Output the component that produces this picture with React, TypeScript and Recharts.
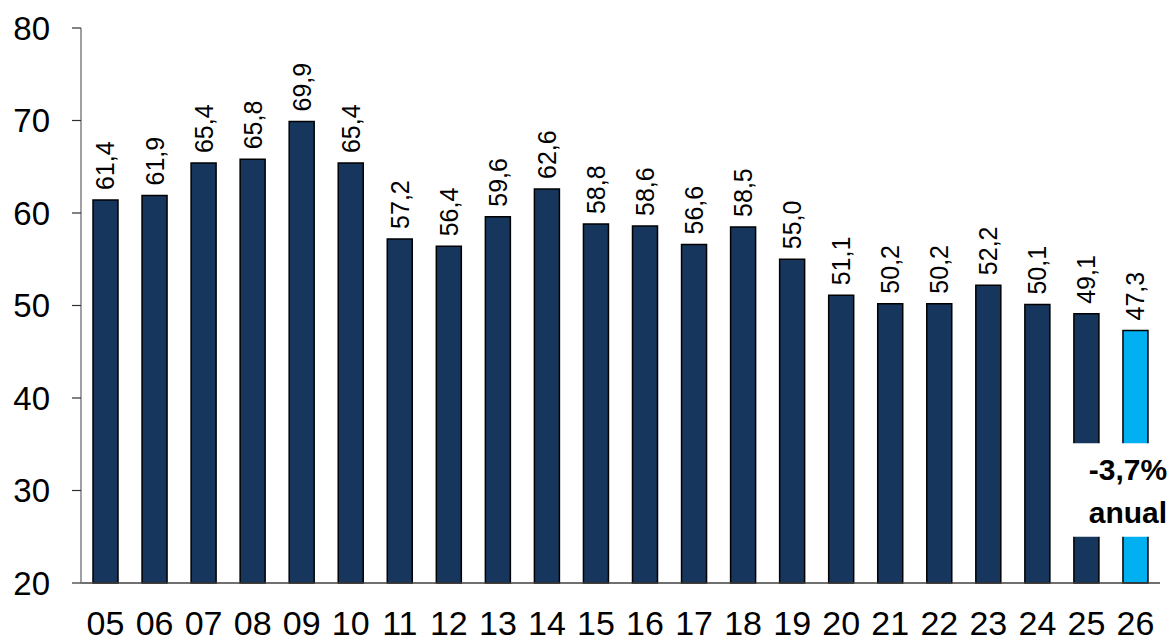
import React from 'react';
import { BarChart, Bar, XAxis, YAxis, Cell, LabelList, ReferenceArea } from 'recharts';

const years = ['05','06','07','08','09','10','11','12','13','14','15','16','17','18','19','20','21','22','23','24','25','26'];
const values = [61.4,61.9,65.4,65.8,69.9,65.4,57.2,56.4,59.6,62.6,58.8,58.6,56.6,58.5,55.0,51.1,50.2,50.2,52.2,50.1,49.1,47.3];
const yTicks = [20,30,40,50,60,70,80];
const boundaryTicks = years.map((_, i) => i).concat([years.length]);
const noteLines = ['-3,7%', 'anual'];

const data = years.map((y, i) => ({ year: y, value: values[i] }));

const FONT = '"Liberation Sans", Arial, sans-serif';
const DARK = '#17365d';
const LIGHT = '#00b0f0';

const ValueLabel = (props: any) => {
  const { x, y, width, value } = props;
  const cx = x + width / 2;
  const cy = y - 10;
  return (
    <text
      x={cx}
      y={cy}
      transform={`rotate(-90 ${cx} ${cy})`}
      textAnchor="start"
      dominantBaseline="central"
      fontFamily={FONT}
      fontSize={25}
      fill="#000"
    >
      {Number(value).toFixed(1).replace('.', ',')}
    </text>
  );
};

const NoteLabel = (props: any) => {
  const vb = props.viewBox || {};
  const cx = vb.x + vb.width / 2 + 17;
  return (
    <g>
      <text x={cx} y={vb.y + 37} textAnchor="middle" fontFamily={FONT} fontWeight="bold" fontSize={30} fill="#000">{noteLines[0]}</text>
      <text x={cx} y={vb.y + 80} textAnchor="middle" fontFamily={FONT} fontWeight="bold" fontSize={30} fill="#000">{noteLines[1]}</text>
    </g>
  );
};

export default function App() {
  return (
    <div style={{ position: 'absolute', left: 0, top: 0, width: 1171, height: 638, background: '#fff' }}>
      <BarChart width={1171} height={638} data={data} margin={{ top: 28, right: 11, bottom: 0, left: 0 }} barSize={25}>
        <XAxis
          xAxisId="bnd"
          type="number"
          domain={[0, years.length]}
          ticks={boundaryTicks}
          interval={0}
          tick={false}
          tickSize={10}
          axisLine={false}
          tickLine={{ stroke: '#707070', strokeWidth: 1.5 }}
          height={0}
        />
        <XAxis
          xAxisId="cat"
          dataKey="year"
          interval={0}
          tickLine={false}
          tickSize={0}
          tickMargin={28}
          height={55}
          axisLine={{ stroke: '#404040', strokeWidth: 1.5 }}
          tick={{ fontFamily: FONT, fontSize: 34, fill: '#000' }}
        />
        <YAxis
          domain={[20, 80]}
          ticks={yTicks}
          interval={0}
          width={81}
          tickSize={9}
          tickMargin={22}
          axisLine={{ stroke: '#808080', strokeWidth: 1.5 }}
          tickLine={{ stroke: '#303030', strokeWidth: 1.2 }}
          tick={{ fontFamily: FONT, fontSize: 33, fill: '#000' }}
        />
        <Bar xAxisId="cat" dataKey="value" stroke="#000" strokeWidth={1.5} isAnimationActive={false}>
          {data.map((d, i) => (
            <Cell key={d.year} fill={i === data.length - 1 ? LIGHT : DARK} />
          ))}
          <LabelList dataKey="value" content={ValueLabel} />
        </Bar>
        <ReferenceArea
          xAxisId="cat"
          x1="25"
          x2="26"
          y1={25}
          y2={35.1}
          fill="#fff"
          fillOpacity={1}
          stroke="none"
          ifOverflow="visible"
          zIndex={1500}
          label={NoteLabel}
        />
      </BarChart>
    </div>
  );
}
